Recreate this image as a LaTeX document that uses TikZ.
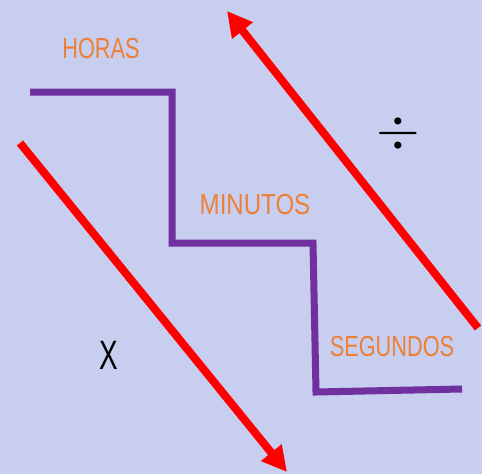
\documentclass[tikz,border=0pt]{standalone}
\usepackage{fontspec}
\setmainfont{Liberation Sans}
\usetikzlibrary{arrows.meta}
\definecolor{lavbg}{HTML}{C8CEF0}
\definecolor{stepviolet}{HTML}{7030A0}
\definecolor{unitorange}{HTML}{EE8035}
\definecolor{opred}{HTML}{FF0000}
\newcommand{\slim}[2][0.75]{\scalebox{#1}[1]{#2}}

\begin{document}
\begin{tikzpicture}[
    x=1pt, y=-1pt,
    unit/.style={text=unitorange, inner sep=0pt, font=\fontsize{29}{30}\selectfont},
    opsign/.style={text=black, inner sep=0pt},
    stairs/.style={stepviolet, line width=7pt, line join=miter},
    oparrow/.style={-{Triangle[length=25pt, width=25pt]}, opred, line width=8pt},
  ]

  % Background
  \useasboundingbox (0,0) rectangle (482,474);
  \fill[lavbg] (0,0) rectangle (482,474);

  % Labels
  \node[unit] (horas) at (101,49) {\slim{HORAS}};
  \node[unit] (minutos) at (255,205) {\slim[0.83]{MINUTOS}};
  \node[unit] (segundos) at (392,347) {\slim{SEGUNDOS}};
  \node[opsign, font=\fontsize{41}{42}\selectfont] (times) at (109,355) {\slim[0.68]{X}};
  \node[opsign] (divide) at (398,133) {\scalebox{5.6}{$\div$}};

  % Stair corners
  \coordinate (s0) at (30,92);
  \coordinate (s1) at (172,92);
  \coordinate (s2) at (172,243);
  \coordinate (s3) at (313,243);
  \coordinate (s4) at (316,392);
  \coordinate (s5) at (462,389);
  \draw[stairs] (s0) -- (s1) -- (s2) -- (s3) -- (s4) -- (s5);

  % Arrow ends
  \coordinate (mulA) at (20,143);
  \coordinate (mulB) at (287,472);
  \coordinate (divA) at (478,328);
  \coordinate (divB) at (227,11);
  \draw[oparrow] (mulA) -- (mulB);
  \draw[oparrow] (divA) -- (divB);

\end{tikzpicture}
\end{document}
